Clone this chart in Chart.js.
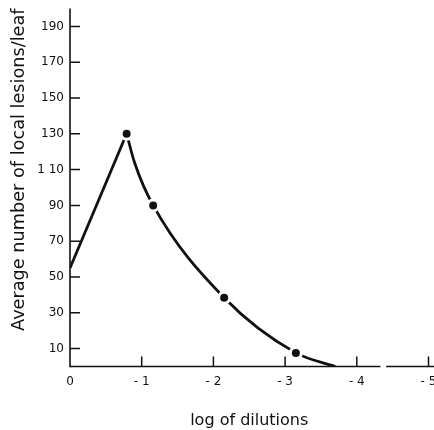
<!DOCTYPE html>
<html>
<head>
<meta charset="utf-8">
<script src="https://cdn.jsdelivr.net/npm/chart.js@4.4.0/dist/chart.umd.min.js"></script>
<style>
  html, body { margin: 0; padding: 0; background: #ffffff; overflow: hidden; width: 434px; height: 430px; }
  canvas { display: block; }
</style>
</head>
<body>
<canvas id="c" width="437" height="430"></canvas>
<script>
// ---- data ----
const riseX = [0, -0.79];
const riseY = [55, 130];

const fallX = [-0.79, -0.90, -1.16, -2.15, -3.15, -3.70];
const fallY = [130, 114, 90, 38.4, 7.6, 0];

const dotX = [-0.79, -1.16, -2.15, -3.15];
const dotY = [130, 90, 38.4, 7.6];

const xTicks = [0, -1, -2, -3, -4, -5];
const xTickLabels = ['0', '- 1', '- 2', '- 3', '- 4', '- 5'];
const yTicks = [10, 30, 50, 70, 90, 110, 130, 150, 170, 190];
const yTickLabels = ['10', '30', '50', '70', '90', '1 10', '130', '150', '170', '190'];

const xTitle = 'log of dilutions';
const yTitle = 'Average number of local lesions/leaf';
const axisBreak = [-4.33, -4.41];

const toXY = (xs, ys) => xs.map((x, i) => ({ x: x, y: ys[i] }));
const INK = '#111111';
const FONT = "'DejaVu Sans', sans-serif";

const axesPlugin = {
  id: 'axesPlugin',
  beforeDatasetsDraw(chart) {
    const ctx = chart.ctx;
    const xs = chart.scales.x, ys = chart.scales.y;
    const left = chart.chartArea.left, bottom = chart.chartArea.bottom, top = chart.chartArea.top;
    ctx.save();
    ctx.strokeStyle = INK;
    ctx.lineCap = 'butt';
    ctx.lineWidth = 1.6;
    ctx.beginPath();
    ctx.moveTo(left, bottom + 0.8);
    ctx.lineTo(left, top);
    ctx.stroke();
    const b1 = xs.getPixelForValue(axisBreak[0]);
    const b2 = xs.getPixelForValue(axisBreak[1]);
    ctx.beginPath();
    ctx.moveTo(left, bottom);
    ctx.lineTo(b1, bottom);
    ctx.moveTo(b2, bottom);
    ctx.lineTo(chart.width, bottom);
    ctx.stroke();
    ctx.lineWidth = 1.5;
    ctx.beginPath();
    yTicks.forEach(v => {
      const py = ys.getPixelForValue(v);
      ctx.moveTo(left, py);
      ctx.lineTo(left + 10, py);
    });
    xTicks.forEach(v => {
      if (v === 0) return;
      const px = xs.getPixelForValue(v);
      ctx.moveTo(px, bottom);
      ctx.lineTo(px, bottom - 10);
    });
    ctx.stroke();
    ctx.restore();
  }
};

new Chart(document.getElementById('c'), {
  type: 'scatter',
  data: {
    datasets: [
      {
        data: toXY(riseX, riseY),
        showLine: true,
        borderColor: INK,
        borderWidth: 2.8,
        pointRadius: 0,
        tension: 0,
        order: 2
      },
      {
        data: toXY(fallX, fallY),
        showLine: true,
        borderColor: INK,
        borderWidth: 2.8,
        pointRadius: 0,
        cubicInterpolationMode: 'monotone',
        order: 2
      },
      {
        data: toXY(dotX, dotY),
        showLine: false,
        pointRadius: 5.5,
        pointBorderWidth: 3,
        pointBorderColor: '#ffffff',
        pointBackgroundColor: INK,
        order: 1
      }
    ]
  },
  options: {
    responsive: false,
    animation: false,
    events: [],
    layout: { padding: { top: 8.5, left: 0, right: 5.5, bottom: 0 } },
    plugins: { legend: { display: false }, tooltip: { enabled: false } },
    scales: {
      x: {
        type: 'linear',
        reverse: true,
        min: -5,
        max: 0,
        grid: { display: false, drawTicks: false },
        border: { display: false },
        afterBuildTicks: s => { s.ticks = xTicks.map(v => ({ value: v })); },
        afterFit: s => { s.height = 63.5; s.paddingLeft = 0; s.paddingRight = 0; },
        ticks: {
          color: INK,
          font: { family: FONT, size: 12 },
          padding: 8,
          maxRotation: 0,
          autoSkip: false,
          callback: (v) => xTickLabels[xTicks.indexOf(v)]
        },
        title: {
          display: true,
          text: xTitle,
          color: INK,
          font: { family: FONT, size: 16 },
          padding: { top: 14, bottom: 0 }
        }
      },
      y: {
        type: 'linear',
        min: 0,
        max: 200,
        grid: { display: false, drawTicks: false },
        border: { display: false },
        afterBuildTicks: s => { s.ticks = yTicks.map(v => ({ value: v })); },
        afterFit: s => { s.width = 70; s.paddingTop = 0; s.paddingBottom = 0; },
        ticks: {
          color: INK,
          font: { family: FONT, size: 12 },
          padding: 6,
          autoSkip: false,
          callback: (v) => yTickLabels[yTicks.indexOf(v)]
        },
        title: {
          display: true,
          text: yTitle,
          align: 'end',
          color: INK,
          font: { family: FONT, size: 17.7 },
          padding: { top: 9, bottom: 0 }
        }
      }
    }
  },
  plugins: [axesPlugin]
});
</script>
</body>
</html>
